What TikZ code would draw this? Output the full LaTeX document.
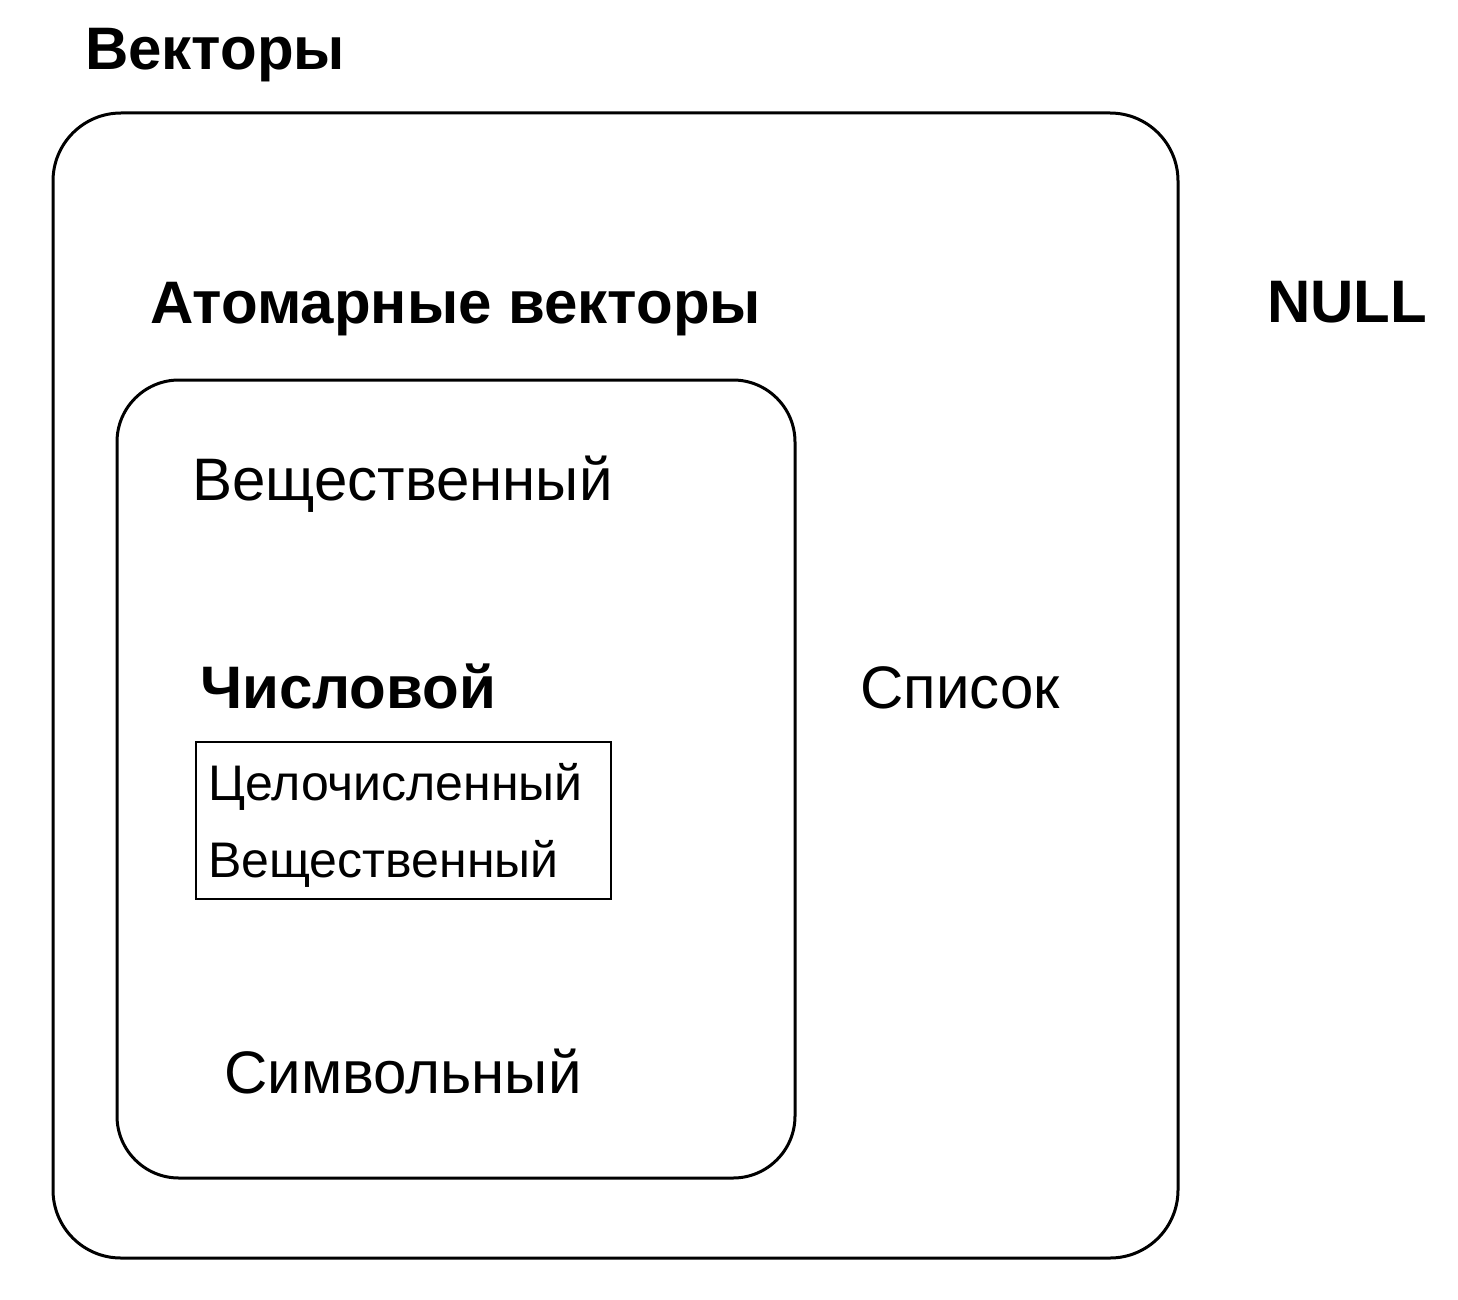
\documentclass[tikz,border=0pt]{standalone}
\usepackage{fontspec}
\setmainfont{Liberation Sans}
\begin{document}
\begin{tikzpicture}[x=1pt,y=1pt,
  big/.style={font=\fontsize{60}{72}\selectfont, inner sep=0pt, anchor=base west},
  bigb/.style={font=\fontsize{60}{72}\selectfont\bfseries, inner sep=0pt, anchor=base west},
  small/.style={font=\fontsize{50}{60}\selectfont, inner sep=0pt, anchor=base west},
  frame/.style={draw=black, line width=3pt, rounded corners=68pt}]
\useasboundingbox (0,0) rectangle (1458,-1300);
\draw[frame] (53,-113) rectangle (1178,-1258);
\draw[frame, rounded corners=62pt] (117,-380) rectangle (795,-1178);
\node[draw=black, line width=2pt, minimum width=415pt, minimum height=157pt, inner sep=0pt, anchor=north west] (numbox) at (195,-741) {};
\node[bigb] (vec) at (85,-70) {Векторы};
\node[bigb] (atom) at (150,-323) {Атомарные векторы};
\node[bigb] (null) at (1267,-322) {NULL};
\node[big] (real) at (192,-500) {Вещественный};
\node[bigb] (num) at (200,-708) {Числовой};
\node[big] (list) at (860,-708) {Список};
\node[big] (chr) at (224,-1093) {Символьный};
\node[small] (int) at (208,-800) {Целочисленный};
\node[small] (dbl) at (208,-877) {Вещественный};
\end{tikzpicture}
\end{document}
